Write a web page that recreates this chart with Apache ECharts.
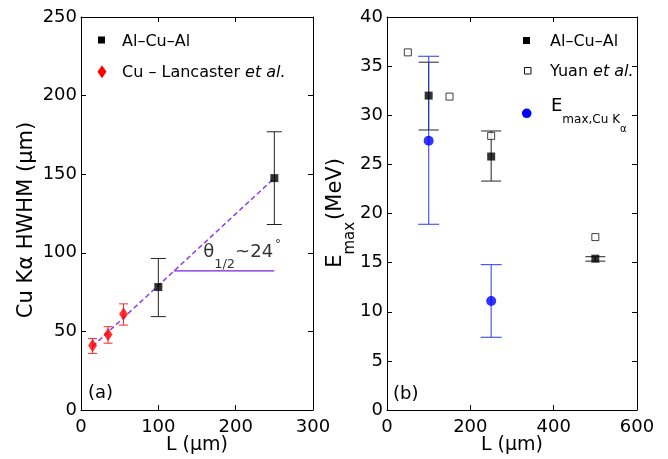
<!DOCTYPE html>
<html>
<head>
<meta charset="utf-8">
<script src="https://cdn.jsdelivr.net/npm/echarts@6/dist/echarts.min.js"></script>
<style>
  html, body { margin: 0; padding: 0; background: #fff; }
  #chart { width: 668px; height: 459px; }
</style>
</head>
<body>
<div id="chart"></div>
<script>
// ---------- panel (a): Cu Kα HWHM versus thickness L ----------
const lenAlCuAlA = [100, 250];
const hwhmAlCuAl = [78.2, 147.5];
const hwhmAlCuAlLow = [59.4, 118];
const hwhmAlCuAlHigh = [96.4, 177];

const lenLancaster = [15, 35, 55];
const hwhmLancaster = [41, 48, 61];
const hwhmLancasterLow = [36, 42.5, 54];
const hwhmLancasterHigh = [45.5, 53, 67.5];

// dashed divergence line and its horizontal reference
const fitLen = [15, 250];
const fitHwhm = [40.5, 147.5];
const refLen = [120, 250];
const refHwhm = [88.5, 88.5];
const angleLabelPos = [158, 100];

const xTicksA = { min: 0, max: 300, interval: 100 };
const yTicksA = { min: 0, max: 250, interval: 50 };

// ---------- panel (b): maximum proton energy versus L ----------
const lenAlCuAlB = [100, 250, 500];
const emaxAlCuAl = [32, 25.8, 15.4];
const emaxAlCuAlLow = [28.5, 23.3, 15.15];
const emaxAlCuAlHigh = [35.4, 28.4, 15.6];

const lenYuan = [50, 150, 250, 500];
const emaxYuan = [36.4, 31.9, 27.9, 17.6];

const lenCuKa = [100, 250];
const emaxCuKa = [27.4, 11.1];
const emaxCuKaLow = [18.9, 7.4];
const emaxCuKaHigh = [36.0, 14.8];

const xTicksB = { min: 0, max: 600, interval: 200 };
const yTicksB = { min: 0, max: 40, interval: 5 };

// ---------- helpers ----------
const FONT = 'DejaVu Sans';
const pairs = (xs, ys) => xs.map((x, i) => [x, ys[i]]);
const triples = (xs, lo, hi) => xs.map((x, i) => [x, lo[i], hi[i]]);

function errorBars(color, capHalf, width) {
  return function (params, api) {
    const x = api.value(0);
    const lo = api.coord([x, api.value(1)]);
    const hi = api.coord([x, api.value(2)]);
    const style = { stroke: color, lineWidth: width, fill: null };
    return {
      type: 'group',
      children: [
        { type: 'line', shape: { x1: lo[0], y1: lo[1], x2: hi[0], y2: hi[1] }, style },
        { type: 'line', shape: { x1: lo[0] - capHalf, y1: lo[1], x2: lo[0] + capHalf, y2: lo[1] }, style },
        { type: 'line', shape: { x1: hi[0] - capHalf, y1: hi[1], x2: hi[0] + capHalf, y2: hi[1] }, style }
      ]
    };
  };
}

function frameAxes(grid, ticks, kind) {
  const line = { show: true, onZero: false, lineStyle: { color: '#000', width: 1 } };
  const tick = { show: true, inside: true, length: 5, lineStyle: { color: '#000', width: 1 } };
  const main = {
    type: 'value', gridIndex: grid, min: ticks.min, max: ticks.max, interval: ticks.interval,
    axisLine: line, axisTick: tick, splitLine: { show: false },
    axisLabel: {
      show: true, color: '#000', fontFamily: FONT, fontSize: 18,
      margin: kind === 'x' ? 8 : 4, showMinLabel: true, showMaxLabel: true
    }
  };
  const mirror = Object.assign({}, main, { axisLabel: { show: false } });
  if (kind === 'x') { main.position = 'bottom'; mirror.position = 'top'; }
  else { main.position = 'left'; mirror.position = 'right'; }
  return [main, mirror];
}

const chart = echarts.init(document.getElementById('chart'), null, { renderer: 'canvas' });

const txt = (extra) => ({ type: 'text', z: 50, ...extra });

chart.setOption({
  animation: false,
  backgroundColor: '#fff',
  grid: [
    { left: 81, top: 17, width: 232, height: 393, outerBoundsMode: 'none', containLabel: false },
    { left: 387, top: 17, width: 250, height: 393, outerBoundsMode: 'none', containLabel: false }
  ],
  xAxis: [...frameAxes(0, xTicksA, 'x'), ...frameAxes(1, xTicksB, 'x')],
  yAxis: [...frameAxes(0, yTicksA, 'y'), ...frameAxes(1, yTicksB, 'y')],
  series: [
    // panel (a)
    {
      type: 'line', xAxisIndex: 0, yAxisIndex: 0, data: pairs(fitLen, fitHwhm),
      symbol: 'none', lineStyle: { color: '#8a3ef0', width: 1.5, type: [5, 3] }, z: 2
    },
    {
      type: 'line', xAxisIndex: 0, yAxisIndex: 0, data: pairs(refLen, refHwhm),
      symbol: 'none', lineStyle: { color: '#7a22d8', width: 1.2 }, z: 2
    },
    {
      type: 'custom', xAxisIndex: 0, yAxisIndex: 0, z: 3,
      data: triples(lenAlCuAlA, hwhmAlCuAlLow, hwhmAlCuAlHigh),
      renderItem: errorBars('#222', 7.5, 1)
    },
    {
      type: 'custom', xAxisIndex: 0, yAxisIndex: 0, z: 3,
      data: triples(lenLancaster, hwhmLancasterLow, hwhmLancasterHigh),
      renderItem: errorBars('#ff2a2a', 4.5, 1)
    },
    {
      type: 'scatter', xAxisIndex: 0, yAxisIndex: 0, z: 5,
      data: pairs(lenAlCuAlA, hwhmAlCuAl), symbol: 'rect', symbolSize: 8,
      itemStyle: { color: '#000' }
    },
    {
      type: 'scatter', xAxisIndex: 0, yAxisIndex: 0, z: 5,
      data: pairs(lenLancaster, hwhmLancaster), symbol: 'diamond', symbolSize: [9, 13],
      itemStyle: { color: '#ff0000' }
    },
    {
      type: 'scatter', xAxisIndex: 0, yAxisIndex: 0, z: 6,
      data: [angleLabelPos], symbolSize: 0, silent: true,
      label: {
        show: true, position: 'right', distance: 0, color: '#000',
        formatter: '{m|θ}{s|1/2}{m|~24}{d|°}',
        rich: {
          m: { fontFamily: FONT, fontSize: 18, color: '#000' },
          s: { fontFamily: FONT, fontSize: 13, color: '#000', padding: [24, 0, 0, 0] },
          d: { fontFamily: FONT, fontSize: 12, color: '#000', padding: [0, 0, 16, 2] }
        }
      }
    },
    // panel (b)
    {
      type: 'custom', xAxisIndex: 2, yAxisIndex: 2, z: 3,
      data: triples(lenAlCuAlB, emaxAlCuAlLow, emaxAlCuAlHigh),
      renderItem: errorBars('#222', 10, 1)
    },
    {
      type: 'custom', xAxisIndex: 2, yAxisIndex: 2, z: 4,
      data: triples(lenCuKa, emaxCuKaLow, emaxCuKaHigh),
      renderItem: errorBars('rgba(30,50,235,0.8)', 10.5, 1.2)
    },
    {
      type: 'scatter', xAxisIndex: 2, yAxisIndex: 2, z: 5,
      data: pairs(lenYuan, emaxYuan), symbol: 'rect', symbolSize: 7,
      itemStyle: { color: '#fff', borderColor: '#111', borderWidth: 1 }
    },
    {
      type: 'scatter', xAxisIndex: 2, yAxisIndex: 2, z: 5,
      data: pairs(lenAlCuAlB, emaxAlCuAl), symbol: 'rect', symbolSize: 8,
      itemStyle: { color: '#000' }
    },
    {
      type: 'scatter', xAxisIndex: 2, yAxisIndex: 2, z: 6,
      data: pairs(lenCuKa, emaxCuKa), symbol: 'circle', symbolSize: 10,
      itemStyle: { color: '#0000ff' }
    }
  ],
  graphic: [
    // axis titles
    txt({ x: 27, y: 220, rotation: Math.PI / 2,
      style: { text: 'Cu Kα HWHM (μm)', fontFamily: FONT, fontSize: 21, fill: '#000', align: 'center', verticalAlign: 'middle' } }),
    txt({ x: 197, y: 445,
      style: { text: 'L (μm)', fontFamily: FONT, fontSize: 19, fill: '#000', align: 'center', verticalAlign: 'middle' } }),
    txt({ x: 336, y: 213, rotation: Math.PI / 2,
      style: {
        text: '{m|E}{s|max}{m|(MeV)}', fill: '#000', align: 'center', verticalAlign: 'middle',
        rich: {
          m: { fontFamily: FONT, fontSize: 21, fill: '#000' },
          s: { fontFamily: FONT, fontSize: 15, fill: '#000', padding: [29, 2, 0, 0] }
        }
      } }),
    txt({ x: 512, y: 445,
      style: { text: 'L (μm)', fontFamily: FONT, fontSize: 19, fill: '#000', align: 'center', verticalAlign: 'middle' } }),
    // panel tags
    txt({ x: 88, y: 393, style: { text: '(a)', fontFamily: FONT, fontSize: 18, fill: '#000', align: 'left', verticalAlign: 'middle' } }),
    txt({ x: 393, y: 394, style: { text: '(b)', fontFamily: FONT, fontSize: 18, fill: '#000', align: 'left', verticalAlign: 'middle' } }),
    // legend (a)
    { type: 'rect', z: 50, shape: { x: 98, y: 36.5, width: 7, height: 7 }, style: { fill: '#000' } },
    txt({ x: 122, y: 42, style: { text: 'Al–Cu–Al', fontFamily: FONT, fontSize: 16, fill: '#000', align: 'left', verticalAlign: 'middle' } }),
    { type: 'polygon', z: 50, shape: { points: [[102, 65.2], [106.5, 71.7], [102, 78.2], [97.5, 71.7]] }, style: { fill: '#ff0000' } },
    txt({ x: 122, y: 72.5, style: {
      text: '{n|Cu – Lancaster }{i|et al.}', fill: '#000', align: 'left', verticalAlign: 'middle',
      rich: {
        n: { fontFamily: FONT, fontSize: 16, fill: '#000' },
        i: { fontFamily: FONT, fontSize: 16, fontStyle: 'italic', fill: '#000' }
      } } }),
    // legend (b)
    { type: 'rect', z: 50, shape: { x: 523, y: 37, width: 7, height: 7 }, style: { fill: '#000' } },
    txt({ x: 550, y: 42, style: { text: 'Al–Cu–Al', fontFamily: FONT, fontSize: 16, fill: '#000', align: 'left', verticalAlign: 'middle' } }),
    { type: 'rect', z: 50, shape: { x: 524.5, y: 67.5, width: 6.5, height: 6.5 }, style: { fill: '#fff', stroke: '#111', lineWidth: 1 } },
    txt({ x: 550, y: 72, style: {
      text: '{n|Yuan }{i|et al.}', fill: '#000', align: 'left', verticalAlign: 'middle',
      rich: {
        n: { fontFamily: FONT, fontSize: 16, fill: '#000' },
        i: { fontFamily: FONT, fontSize: 16, fontStyle: 'italic', fill: '#000' }
      } } }),
    { type: 'circle', z: 50, shape: { cx: 526.7, cy: 113.3, r: 4.8 }, style: { fill: '#0000ff' } },
    txt({ x: 551, y: 106.7, style: {
      text: '{m|E}{s|max,Cu K}{a|α}', fill: '#000', align: 'left', verticalAlign: 'middle',
      rich: {
        m: { fontFamily: FONT, fontSize: 18, fill: '#000' },
        s: { fontFamily: FONT, fontSize: 12, fill: '#000', padding: [25.6, 0, 0, 0] },
        a: { fontFamily: FONT, fontSize: 10, fill: '#000', padding: [44.6, 0, 0, 0] }
      } } })
  ]
});
</script>
</body>
</html>
